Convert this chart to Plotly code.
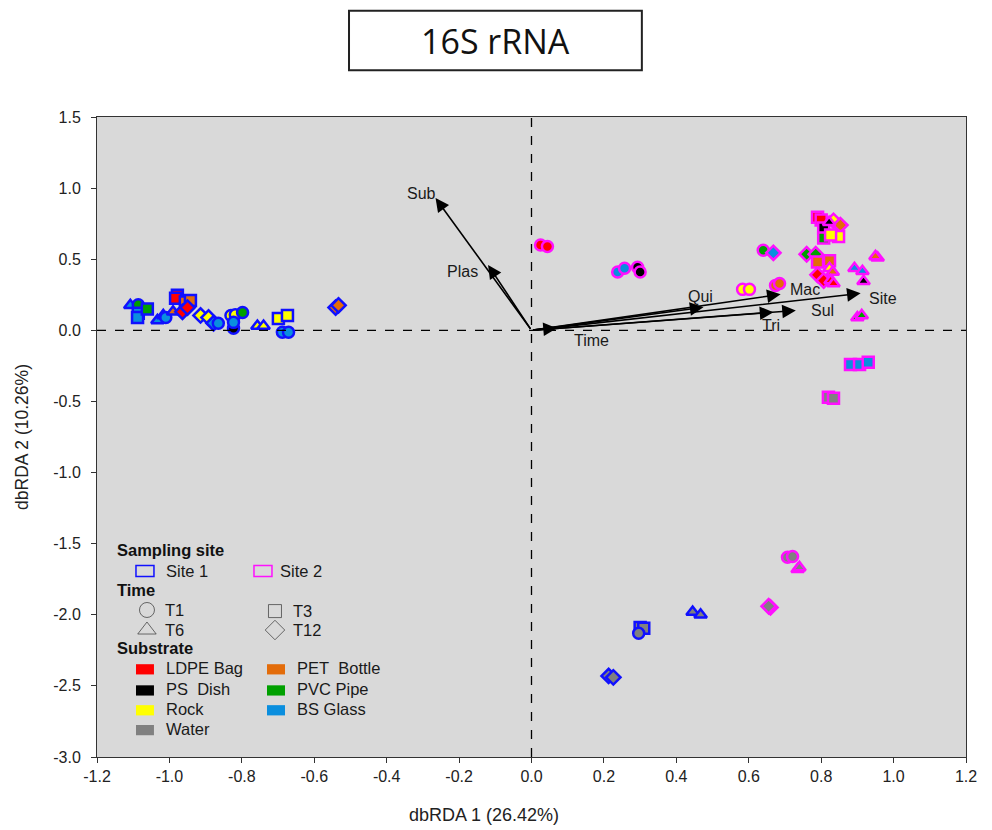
import plotly.graph_objects as go

# ---- sample scores (dbRDA axis 1 / axis 2) ----
site = (["Site 1"] * 39) + (["Site 2"] * 50)

time = [
    # Site 1
    "T6", "T1", "T3", "T3", "T3", "T6", "T6", "T1", "T6", "T3", "T3", "T3", "T3",
    "T12", "T12", "T12", "T12", "T12", "T1", "T1", "T1", "T1", "T1", "T1",
    "T6", "T6", "T3", "T3", "T1", "T1", "T12", "T12",
    "T12", "T12", "T3", "T3", "T1", "T6", "T6",
    # Site 2
    "T1", "T1", "T1", "T1", "T1", "T1", "T1", "T1", "T1", "T1", "T1", "T12",
    "T12", "T12", "T3", "T3", "T6", "T6", "T12", "T12", "T6", "T6",
    "T3", "T3", "T3", "T12", "T12", "T6", "T3", "T3", "T3",
    "T6", "T6", "T6", "T6", "T6", "T6", "T6",
    "T3", "T3", "T3", "T3", "T3", "T1", "T1", "T6", "T6", "T12", "T12",
]

substrate = [
    # Site 1
    "BS Glass", "PVC Pipe", "BS Glass", "BS Glass", "PVC Pipe", "BS Glass", "BS Glass",
    "BS Glass", "PET  Bottle", "LDPE Bag", "LDPE Bag", "PET  Bottle", "PET  Bottle",
    "LDPE Bag", "LDPE Bag", "Rock", "Rock", "BS Glass", "BS Glass", "Rock", "Rock",
    "PVC Pipe", "PS  Dish", "BS Glass",
    "Rock", "Rock", "Rock", "Rock", "BS Glass", "BS Glass", "PET  Bottle", "PET  Bottle",
    "Water", "Water", "Water", "Water", "Water", "Water", "Water",
    # Site 2
    "LDPE Bag", "LDPE Bag", "BS Glass", "BS Glass", "PS  Dish", "PS  Dish", "Rock", "Rock",
    "PET  Bottle", "PET  Bottle", "PVC Pipe", "BS Glass",
    "PVC Pipe", "PVC Pipe", "PET  Bottle", "PET  Bottle", "Rock", "PET  Bottle",
    "LDPE Bag", "LDPE Bag", "LDPE Bag", "LDPE Bag",
    "LDPE Bag", "LDPE Bag", "PS  Dish", "Rock", "PET  Bottle", "PS  Dish", "PVC Pipe", "Rock", "Rock",
    "BS Glass", "BS Glass", "PET  Bottle", "PET  Bottle", "PS  Dish", "PVC Pipe", "PVC Pipe",
    "BS Glass", "BS Glass", "BS Glass", "Water", "Water", "Water", "Water", "Water", "Water",
    "Water", "Water",
]

dbrda1 = [
    # Site 1
    -1.108, -1.086, -1.086, -1.088, -1.061, -1.033, -1.017, -1.010, -0.990, -0.978, -0.983,
    -0.956, -0.942, -0.964, -0.950, -0.914, -0.892, -0.878, -0.865, -0.830, -0.818,
    -0.798, -0.823, -0.823,
    -0.757, -0.740, -0.699, -0.674, -0.688, -0.671, -0.541, -0.533,
    0.213, 0.226, 0.300, 0.310, 0.296, 0.445, 0.467,
    # Site 2
    0.025, 0.044, 0.238, 0.257, 0.293, 0.300, 0.583, 0.602, 0.674, 0.685, 0.640, 0.668,
    0.760, 0.785, 0.790, 0.823, 0.823, 0.832, 0.790, 0.807, 0.826, 0.834,
    0.790, 0.800, 0.807, 0.834, 0.853, 0.822, 0.807, 0.848, 0.826,
    0.892, 0.914, 0.956, 0.950, 0.917, 0.900, 0.912,
    0.881, 0.906, 0.930, 0.820, 0.834, 0.707, 0.721, 0.735, 0.740, 0.660, 0.655,
]

dbrda2 = [
    # Site 1
    0.176, 0.180, 0.120, 0.090, 0.150, 0.070, 0.105, 0.090, 0.130, 0.246, 0.225,
    0.200, 0.210, 0.130, 0.160, 0.105, 0.090, 0.050, 0.050, 0.105, 0.110,
    0.125, 0.014, 0.056,
    0.030, 0.030, 0.084, 0.105, -0.014, -0.014, 0.160, 0.176,
    -2.430, -2.440, -2.090, -2.095, -2.130, -1.980, -2.000,
    # Site 2
    0.600, 0.590, 0.410, 0.436, 0.443, 0.410, 0.288, 0.288, 0.316, 0.330, 0.563, 0.545,
    0.535, 0.535, 0.480, 0.490, 0.436, 0.410, 0.390, 0.350, 0.350, 0.330,
    0.795, 0.775, 0.720, 0.770, 0.740, 0.760, 0.650, 0.660, 0.670,
    0.436, 0.415, 0.510, 0.520, 0.345, 0.090, 0.105,
    -0.240, -0.240, -0.225, -0.470, -0.478, -1.596, -1.590, -1.680, -1.667, -1.948, -1.940,
]

# ---- fitted environmental vectors ----
vec_names = ["Sub", "Plas", "Qui", "Mac", "Site", "Sul", "Tri", "Time"]
vec_x = [-0.265, -0.120, 0.475, 0.688, 0.909, 0.730, 0.668, 0.070]
vec_y = [0.930, 0.460, 0.162, 0.253, 0.260, 0.140, 0.127, 0.015]
vec_label_x = [-0.305, -0.190, 0.467, 0.755, 0.972, 0.803, 0.662, 0.165]
vec_label_y = [0.962, 0.415, 0.240, 0.290, 0.222, 0.142, 0.035, -0.070]

# ---- category styles ----
site_colors = {"Site 1": "#1010ff", "Site 2": "#ff10ff"}
time_symbols = {"T1": "circle", "T3": "square", "T6": "triangle-up", "T12": "diamond"}
substrate_colors = {
    "LDPE Bag": "#ff0000",
    "PS  Dish": "#000000",
    "Rock": "#ffff00",
    "Water": "#808080",
    "PET  Bottle": "#e36c0a",
    "PVC Pipe": "#00a000",
    "BS Glass": "#0a8ede",
}

x_ticks = [-1.2, -1.0, -0.8, -0.6, -0.4, -0.2, 0.0, 0.2, 0.4, 0.6, 0.8, 1.0, 1.2]
y_ticks = [1.5, 1.0, 0.5, 0.0, -0.5, -1.0, -1.5, -2.0, -2.5, -3.0]

FONT = "Liberation Sans, Arial, sans-serif"

fig = go.Figure()

fig.add_trace(go.Scatter(
    x=dbrda1, y=dbrda2, mode="markers", showlegend=False, hoverinfo="x+y",
    marker=dict(
        size=11,
        symbol=[time_symbols[t] for t in time],
        color=[substrate_colors[s] for s in substrate],
        line=dict(width=2.5, color=[site_colors[s] for s in site]),
    ),
))

# reference lines through the origin
fig.add_shape(type="line", x0=0, x1=0, y0=-3.0, y1=1.5, xref="x", yref="y",
              line=dict(color="black", width=1.3, dash="dash"))
fig.add_shape(type="line", x0=-1.2, x1=1.2, y0=0, y1=0, xref="x", yref="y",
              line=dict(color="black", width=1.3, dash="dash"))

# vectors and their labels
for name, vx, vy, lx, ly in zip(vec_names, vec_x, vec_y, vec_label_x, vec_label_y):
    fig.add_annotation(x=vx, y=vy, ax=0, ay=0, xref="x", yref="y", axref="x", ayref="y",
                       text="", showarrow=True, arrowhead=2, arrowsize=1.7,
                       arrowwidth=1.6, arrowcolor="black", standoff=0)
    fig.add_annotation(x=lx, y=ly, xref="x", yref="y", text=name, showarrow=False,
                       font=dict(family=FONT, size=16, color="#1a1a1a"))

# ---- in-plot key (paper coordinates of the plotting area) ----
legend_font = dict(family=FONT, size=16.5, color="#1a1a1a")
header_font = dict(family=FONT, size=16.5, color="#111111", weight="bold")

def key_text(x, y, text, font):
    fig.add_annotation(x=x, y=y, xref="paper", yref="paper", text=text, showarrow=False,
                       xanchor="left", yanchor="middle", font=font)

def key_rect(xc, yc, fill, line_color, w=0.0207, h=0.0175):
    fig.add_shape(type="rect", xref="paper", yref="paper",
                  x0=xc - w / 2, x1=xc + w / 2, y0=yc - h / 2, y1=yc + h / 2,
                  fillcolor=fill, line=dict(color=line_color, width=1.5 if fill == "rgba(0,0,0,0)" else 0))

key_text(0.021, 0.323, "Sampling site", header_font)
key_rect(0.0552, 0.2906, "rgba(0,0,0,0)", site_colors["Site 1"])
key_text(0.077, 0.2906, "Site 1", legend_font)
key_rect(0.191, 0.2906, "rgba(0,0,0,0)", site_colors["Site 2"])
key_text(0.208, 0.2906, "Site 2", legend_font)

key_text(0.021, 0.261, "Time", header_font)
time_key = [("T1", 0.0575, 0.2297), ("T3", 0.2048, 0.2280),
            ("T6", 0.0575, 0.1984), ("T12", 0.2048, 0.1984)]
fig.add_trace(go.Scatter(
    x=[k[1] for k in time_key], y=[k[2] for k in time_key], xaxis="x2", yaxis="y2",
    mode="markers", showlegend=False, hoverinfo="skip",
    marker=dict(size=[15, 13, 16, 15], symbol=[time_symbols[k[0]] + "-open" for k in time_key],
                color="#333333", line=dict(width=1)),
))
for label, kx, ky in time_key:
    key_text(kx + 0.019, ky, label, legend_font)

key_text(0.021, 0.1703, "Substrate", header_font)
sub_rows = [0.139, 0.106, 0.075, 0.044]
left_col = ["LDPE Bag", "PS  Dish", "Rock", "Water"]
right_col = ["PET  Bottle", "PVC Pipe", "BS Glass"]
for name, yy in zip(left_col, sub_rows):
    key_rect(0.0552, yy - 0.002, substrate_colors[name], substrate_colors[name], h=0.016)
    key_text(0.077, yy, name.replace("  ", "&nbsp;&nbsp;"), legend_font)
for name, yy in zip(right_col, sub_rows):
    key_rect(0.206, yy - 0.002, substrate_colors[name], substrate_colors[name], h=0.016)
    key_text(0.228, yy, name.replace("  ", "&nbsp;&nbsp;"), legend_font)

# boxed title
fig.add_shape(type="rect", xref="paper", yref="paper", x0=0.29, x1=0.627, y0=1.073, y1=1.166,
              line=dict(color="#222222", width=2), fillcolor="white")
fig.add_annotation(x=0.4585, y=1.119, xref="paper", yref="paper", text="16S rRNA",
                   showarrow=False, xanchor="center", yanchor="middle",
                   font=dict(family="Open Sans, sans-serif", size=34, color="#111111"))

# horizontal axis caption
fig.add_annotation(x=0.445, y=-0.09, xref="paper", yref="paper", text="dbRDA 1 (26.42%)",
                   showarrow=False, xanchor="center", yanchor="middle",
                   font=dict(family=FONT, size=18, color="#222222"))

fig.update_layout(
    width=992, height=830,
    margin=dict(l=97, r=26, t=117, b=73),
    paper_bgcolor="white", plot_bgcolor="#d9d9d9",
    font=dict(family=FONT, size=16, color="#222222"),
    xaxis=dict(range=[-1.2, 1.2], tickvals=x_ticks, ticktext=[f"{v:.1f}" for v in x_ticks],
               showgrid=False, zeroline=False, ticks="outside", ticklen=5, tickcolor="#333",
               showline=True, linecolor="#333333", linewidth=1, mirror=True, automargin=False),
    yaxis=dict(range=[-3.0, 1.5], tickvals=y_ticks, ticktext=[f"{v:.1f}" for v in y_ticks],
               showgrid=False, zeroline=False, ticks="outside", ticklen=5, tickcolor="#333",
               ticklabelstandoff=7, automargin=False,
               showline=True, linecolor="#333333", linewidth=1, mirror=True,
               title=dict(text="dbRDA 2 (10.26%)", standoff=20, font=dict(size=17.5))),
    xaxis2=dict(range=[0, 1], overlaying="x", visible=False),
    yaxis2=dict(range=[0, 1], overlaying="y", visible=False),
)

fig.write_html("out.html")
